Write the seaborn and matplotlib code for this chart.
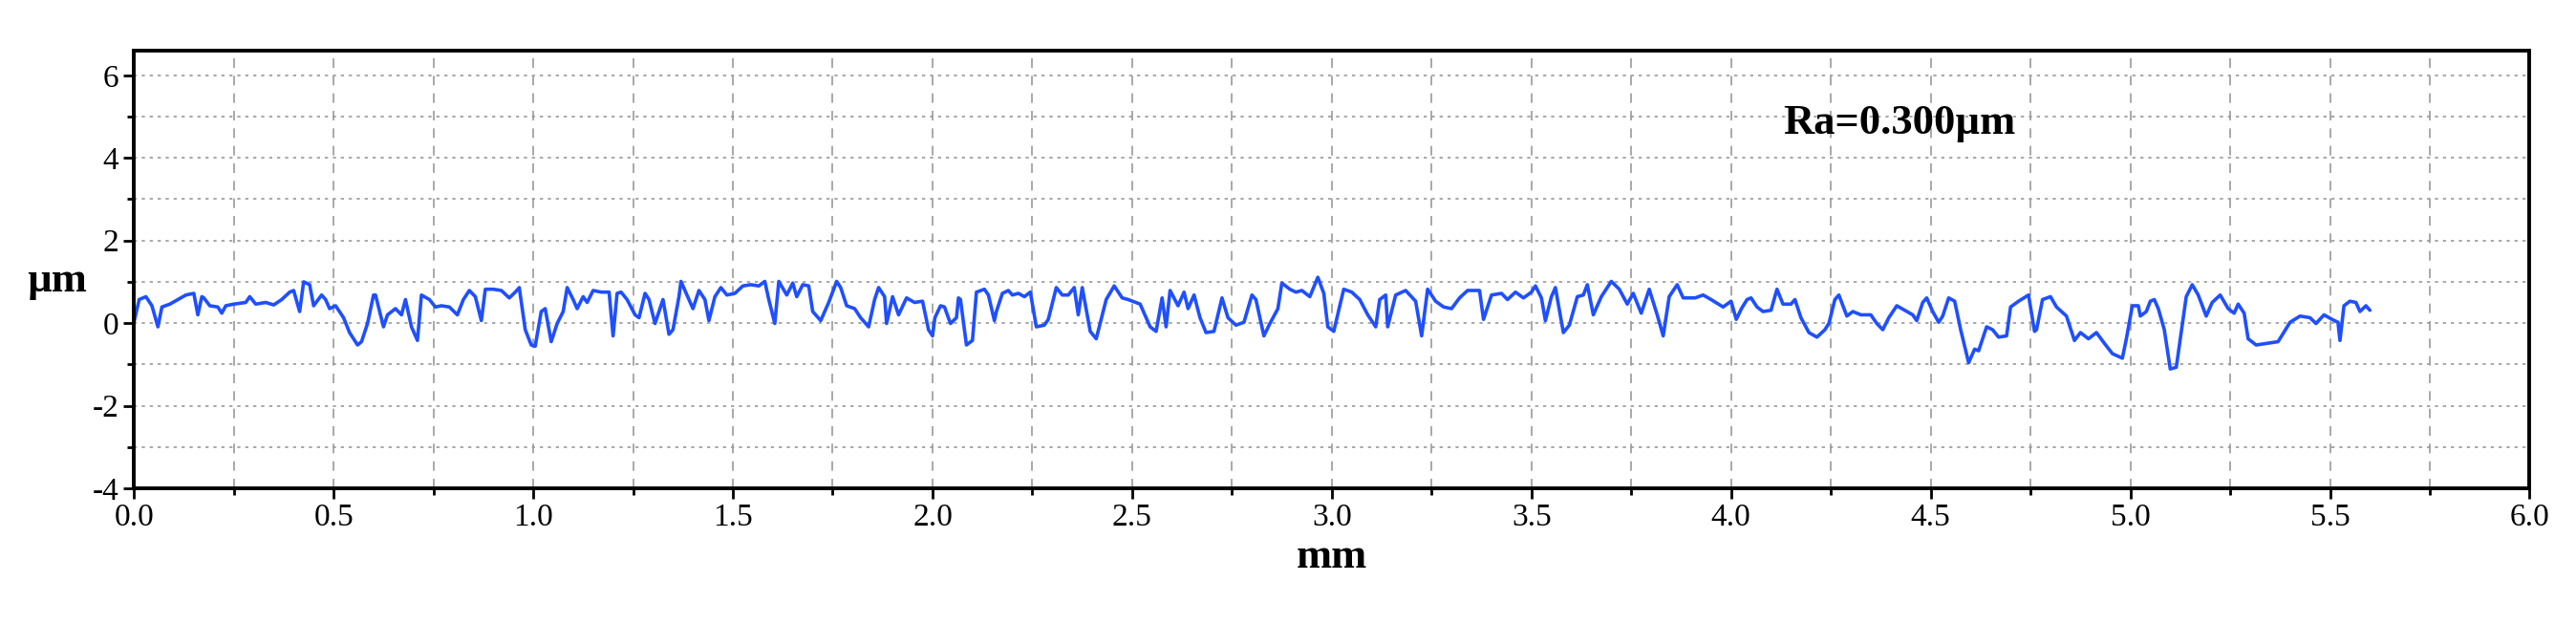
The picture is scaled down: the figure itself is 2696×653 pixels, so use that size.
import matplotlib
matplotlib.use("Agg")
import matplotlib.pyplot as plt
import seaborn as sns
import pandas as pd
from matplotlib.ticker import MultipleLocator

# profile (mm, µm)
x_mm = [
    0.00, 0.013, 0.03, 0.045, 0.06, 0.07, 0.09, 0.11, 0.13, 0.15, 0.16, 0.17, 0.175, 0.19,
    0.21, 0.22, 0.23, 0.25, 0.28, 0.29, 0.305, 0.33, 0.35, 0.37, 0.39, 0.40, 0.415, 0.425,
    0.44, 0.45, 0.47, 0.48, 0.49, 0.505, 0.525, 0.54, 0.56, 0.57, 0.585, 0.60, 0.605, 0.625,
    0.635, 0.655, 0.67, 0.68, 0.695, 0.71, 0.72, 0.74, 0.755, 0.77, 0.79, 0.81, 0.825, 0.84,
    0.855, 0.87, 0.88, 0.90, 0.92, 0.94, 0.955, 0.965, 0.98, 0.995, 1.005, 1.02, 1.03, 1.045,
    1.06, 1.075, 1.085, 1.10, 1.11, 1.125, 1.135, 1.15, 1.17, 1.19, 1.20, 1.21, 1.22, 1.235,
    1.255, 1.265, 1.28, 1.29, 1.305, 1.325, 1.34, 1.35, 1.365, 1.37, 1.39, 1.40, 1.415, 1.43,
    1.44, 1.455, 1.47, 1.485, 1.505, 1.525, 1.545, 1.565, 1.58, 1.59, 1.605, 1.615, 1.635,
    1.65, 1.66, 1.675, 1.69, 1.70, 1.72, 1.74, 1.76, 1.77, 1.785, 1.805, 1.82, 1.84, 1.855,
    1.865, 1.88, 1.885, 1.90, 1.915, 1.935, 1.955, 1.975, 1.99, 2.00,
    2.006, 2.02, 2.03, 2.045, 2.06, 2.065, 2.07, 2.085, 2.10, 2.11, 2.13, 2.14, 2.155, 2.16,
    2.175, 2.19, 2.20, 2.215, 2.23, 2.245, 2.26, 2.28, 2.29, 2.31, 2.325, 2.34, 2.355, 2.365,
    2.375, 2.395, 2.41, 2.435, 2.455, 2.475, 2.49, 2.52, 2.545, 2.56, 2.575, 2.585, 2.595,
    2.615, 2.63, 2.64, 2.655, 2.67, 2.685, 2.705, 2.725, 2.74, 2.76, 2.78, 2.80, 2.81, 2.83,
    2.845, 2.865, 2.875, 2.895, 2.91, 2.925, 2.945, 2.965, 2.98, 2.99, 3.005, 3.02, 3.03,
    3.05, 3.07, 3.09, 3.11, 3.12, 3.135, 3.14, 3.16, 3.185, 3.21, 3.225, 3.24, 3.26, 3.28,
    3.30, 3.32, 3.34, 3.37, 3.38, 3.40, 3.425, 3.44, 3.46, 3.48, 3.50, 3.51, 3.525, 3.535,
    3.55, 3.56, 3.58, 3.595, 3.615, 3.63, 3.64, 3.655, 3.675, 3.70, 3.72, 3.74, 3.755, 3.775,
    3.795, 3.815, 3.83, 3.845, 3.865, 3.88, 3.91, 3.93, 3.95, 3.98,
    4.00, 4.013, 4.026, 4.04, 4.05, 4.065, 4.08, 4.10, 4.115, 4.13, 4.15, 4.16, 4.175, 4.195,
    4.215, 4.235, 4.245, 4.26, 4.27, 4.29, 4.305, 4.325, 4.35, 4.365, 4.38, 4.395, 4.415,
    4.435, 4.455, 4.465, 4.48, 4.49, 4.505, 4.52, 4.53, 4.545, 4.56, 4.575, 4.595, 4.61, 4.62,
    4.64, 4.655, 4.67, 4.69, 4.70, 4.72, 4.745, 4.76, 4.765, 4.78, 4.80, 4.815, 4.84, 4.86,
    4.875, 4.895, 4.915, 4.935, 4.955, 4.98, 4.99, 5.005, 5.02, 5.025, 5.04, 5.05, 5.06, 5.07,
    5.085, 5.10, 5.115, 5.14, 5.155, 5.17, 5.19, 5.205, 5.225, 5.245, 5.26, 5.27, 5.285,
    5.295, 5.315, 5.37, 5.40, 5.425, 5.45, 5.465, 5.485, 5.505, 5.52, 5.525, 5.535, 5.55,
    5.565, 5.575, 5.59, 5.60,
]
height_um = [
    0.02, 0.57, 0.64, 0.42, -0.09, 0.39, 0.46, 0.57, 0.68, 0.72, 0.20, 0.64, 0.61, 0.42,
    0.39, 0.24, 0.42, 0.46, 0.50, 0.64, 0.46, 0.50, 0.44, 0.57, 0.75, 0.79, 0.28, 1.00,
    0.93, 0.42, 0.68, 0.57, 0.35, 0.42, 0.13, -0.23, -0.53, -0.45, -0.01, 0.68, 0.68, -0.09,
    0.20, 0.35, 0.20, 0.57, -0.09, -0.42, 0.68, 0.57, 0.39, 0.42, 0.39, 0.20, 0.57, 0.79,
    0.64, 0.06, 0.82, 0.82, 0.79, 0.61, 0.75, 0.86, -0.16, -0.53, -0.56, 0.28, 0.35, -0.45,
    -0.01, 0.28, 0.86, 0.57, 0.35, 0.64, 0.50, 0.79, 0.75, 0.75, -0.31, 0.72, 0.75, 0.57,
    0.20, 0.13, 0.72, 0.57, -0.01, 0.57, -0.27, -0.16, 0.64, 1.01, 0.57, 0.35, 0.79, 0.57,
    0.06, 0.64, 0.86, 0.68, 0.72, 0.90, 0.93, 0.90, 1.01, 0.57, -0.01, 1.01, 0.68,
    0.97, 0.64, 0.93, 0.90, 0.28, 0.06, 0.50, 1.01, 0.86, 0.42, 0.35, 0.13, -0.09, 0.57,
    0.86, 0.64, -0.01, 0.64, 0.20, 0.61, 0.50, 0.53, -0.16, -0.31,
    0.13, 0.42, 0.39, -0.01, 0.13, 0.61, 0.57, -0.53, -0.42, 0.75, 0.82, 0.68, 0.06, 0.28,
    0.72, 0.79, 0.68, 0.72, 0.64, 0.75, -0.09, -0.05, 0.09, 0.86, 0.68, 0.68, 0.86, 0.20,
    0.86, -0.20, -0.38, 0.57, 0.90, 0.61, 0.57, 0.46, -0.09, -0.20, 0.61, -0.09, 0.79,
    0.42, 0.75, 0.35, 0.68, 0.13, -0.23, -0.20, 0.61, 0.13, -0.05, 0.02, 0.68, 0.57, -0.31,
    -0.01, 0.35, 0.97, 0.82, 0.75, 0.79, 0.64, 1.11, 0.72, -0.09, -0.20, 0.42, 0.82,
    0.75, 0.57, 0.20, -0.09, 0.57, 0.68, -0.09, 0.68, 0.79, 0.53, -0.31, 0.82, 0.53, 0.39,
    0.35, 0.61, 0.79, 0.79, 0.09, 0.68, 0.72, 0.57, 0.75, 0.61, 0.75, 0.90, 0.61, 0.06,
    0.64, 0.86, -0.23, -0.05, 0.64, 0.68, 0.93, 0.20, 0.64, 1.01, 0.82, 0.46, 0.72, 0.24,
    0.82, 0.20, -0.31, 0.64, 0.93, 0.61, 0.61, 0.68, 0.57, 0.39,
    0.53, 0.09, 0.35, 0.57, 0.61, 0.39, 0.28, 0.31, 0.82, 0.46, 0.46, 0.57, 0.13, -0.23,
    -0.34, -0.16, -0.01, 0.57, 0.68, 0.17, 0.28, 0.20, 0.20, -0.01, -0.16, 0.13, 0.42,
    0.31, 0.20, 0.06, 0.50, 0.61, 0.28, 0.02, 0.17, 0.61, 0.53, -0.16, -0.96, -0.63, -0.67,
    -0.09, -0.16, -0.34, -0.31, 0.39, 0.53, 0.68, -0.20, -0.16, 0.57, 0.64, 0.39, 0.17, -0.42,
    -0.23, -0.38, -0.23, -0.49, -0.74, -0.85, -0.38, 0.42, 0.42, 0.17, 0.28, 0.53, 0.57, 0.35,
    -0.16, -1.11, -1.07, 0.64, 0.93, 0.68, 0.17, 0.50, 0.68, 0.35, 0.24, 0.46, 0.24,
    -0.38, -0.53, -0.45, 0.02, 0.17, 0.13, -0.01, 0.20, 0.09, 0.02, -0.42, 0.42, 0.53,
    0.50, 0.28, 0.42, 0.31,
]
annotation = "Ra=0.300µm"

sns.set_style("ticks")
plt.rcParams["font.family"] = ["Liberation Serif", "DejaVu Serif"]
plt.rcParams["axes.unicode_minus"] = False
plt.rcParams["text.color"] = "black"
plt.rcParams["axes.labelcolor"] = "black"
plt.rcParams["xtick.color"] = "black"
plt.rcParams["ytick.color"] = "black"

df = pd.DataFrame({"mm": x_mm, "um": height_um})

fig = plt.figure(figsize=(26.96, 6.53), dpi=100)
ax = fig.add_axes([0.052, 0.2175, 0.930, 0.7015])

sns.lineplot(data=df, x="mm", y="um", ax=ax, color="#1f4fff", linewidth=2.6)

ax.set_xlim(0, 6)
ax.set_ylim(-4, 6.6)
ax.xaxis.set_major_locator(MultipleLocator(0.5))
ax.xaxis.set_minor_locator(MultipleLocator(0.25))
ax.yaxis.set_major_locator(MultipleLocator(2))
ax.yaxis.set_minor_locator(MultipleLocator(1))
ax.xaxis.set_major_formatter(plt.FormatStrFormatter("%.1f"))

ax.grid(which="both", axis="x", color="#999999", linestyle=(0, (6, 5)), linewidth=1.2)
ax.grid(which="both", axis="y", color="#999999", linestyle=(0, (2, 3)), linewidth=1.2)

for s in ax.spines.values():
    s.set_linewidth(2.8)
    s.set_color("black")
ax.tick_params(which="major", length=8, width=2, labelsize=24)
ax.tick_params(which="minor", length=5, width=2)

ax.set_xlabel("mm", fontsize=32, fontweight="bold", labelpad=4)
ax.set_ylabel("µm", fontsize=32, fontweight="bold", rotation=0, labelpad=22)
ax.yaxis.set_label_coords(-0.032, 0.43)

ax.text(4.13, 4.85, annotation, fontsize=32, fontweight="bold", va="center")

fig.savefig("out.png", dpi=100)
